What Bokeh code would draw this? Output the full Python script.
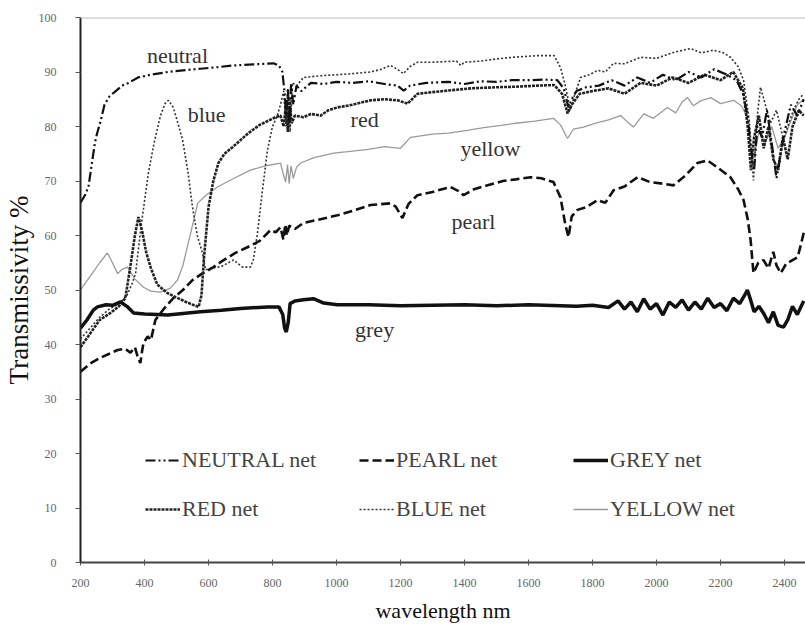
from bokeh.plotting import figure
from bokeh.models import Range1d, Span, Legend, LegendItem, FixedTicker, ColumnDataSource
from bokeh.core.properties import value
from bokeh.embed import file_html
from bokeh.resources import INLINE

# ---------------- data ----------------
neutral_x = [200, 215, 225, 235, 245, 253, 263, 275, 290, 310, 330, 350, 380, 420, 472, 520, 575, 630, 678, 740, 803, 820, 831, 838, 843, 848, 853, 858, 865, 875, 890, 920, 960, 1000, 1050, 1100, 1150, 1190, 1210, 1230, 1280, 1350, 1400, 1450, 1500, 1550, 1600, 1650, 1690, 1710, 1725, 1735, 1750, 1780, 1820, 1860, 1900, 1940, 1980, 2020, 2060, 2100, 2140, 2180, 2220, 2250, 2270, 2285, 2295, 2305, 2315, 2330, 2345, 2360, 2375, 2385, 2400, 2420, 2440, 2460]
neutral_y = [66, 67.5, 69, 73, 77, 79, 81, 84, 85.5, 86.5, 87.5, 88, 89, 89.5, 90, 90.3, 90.6, 90.9, 91.2, 91.4, 91.6, 91.2, 90, 86, 82, 87, 80, 88, 84, 87.5, 86.5, 88, 87.8, 88.2, 88, 88.3, 87.8, 87.5, 86.6, 87.5, 88, 88.2, 87.8, 88.3, 88.2, 88.5, 88.5, 88.6, 88.5, 87, 83.5, 85, 86.5, 87.2, 87.5, 88.5, 87.5, 89, 88, 89.5, 88.5, 90, 89, 90.5, 89.5, 88.5, 86, 82, 76, 72, 80, 78, 83, 77, 70.5, 74, 79, 84, 82, 85]

red_x = [200, 230, 260, 294, 320, 340, 355, 370, 381, 392, 405, 420, 440, 470, 497, 530, 555, 569, 578, 586, 600, 615, 631, 650, 675, 700, 725, 760, 809, 825, 835, 842, 848, 853, 860, 870, 897, 920, 950, 975, 1003, 1050, 1106, 1150, 1191, 1222, 1253, 1300, 1350, 1419, 1500, 1560, 1628, 1680, 1705, 1722, 1735, 1760, 1800, 1850, 1900, 1950, 2000, 2050, 2100, 2150, 2200, 2240, 2270, 2285, 2295, 2305, 2320, 2335, 2350, 2365, 2380, 2395, 2410, 2425, 2445, 2460]
red_y = [39.5, 42, 44.5, 45.8, 47, 48.5, 54, 60, 63.4, 61, 57, 54, 51, 49.5, 48.7, 47.8, 47.2, 46.9, 49, 56, 65.2, 70, 73.3, 75, 76.2, 77.5, 78.8, 80.3, 81.7, 82, 80, 84, 79, 85, 80.6, 82, 81.7, 82.3, 82, 83, 83.5, 84, 84.8, 85, 84.8, 84.2, 86, 86.3, 86.6, 87, 87.2, 87.3, 87.5, 87.6, 86, 82.4, 84, 86, 86.5, 87, 86, 88, 87.5, 89, 88, 89.5, 88.5, 90, 87, 80, 72, 78, 82, 76, 80, 74, 72, 78, 74, 80, 83, 82]

blue_x = [200, 230, 260, 290, 320, 345, 360, 372, 390, 412, 430, 450, 465, 475, 490, 505, 519, 535, 550, 565, 581, 591, 610, 640, 678, 706, 731, 740, 753, 768, 784, 800, 815, 825, 835, 842, 848, 855, 862, 875, 897, 950, 1000, 1050, 1106, 1140, 1169, 1190, 1209, 1230, 1253, 1300, 1375, 1388, 1400, 1450, 1500, 1550, 1628, 1680, 1700, 1715, 1731, 1745, 1763, 1790, 1816, 1840, 1866, 1900, 1950, 2000, 2053, 2106, 2140, 2178, 2210, 2231, 2255, 2272, 2290, 2303, 2315, 2325, 2340, 2356, 2375, 2397, 2410, 2428, 2445, 2460]
blue_y = [41, 43, 45, 46.5, 47.5, 49, 51, 53, 62, 71.4, 77, 82, 84.3, 84.8, 83.5, 80.5, 77.5, 72, 65.2, 60, 56.8, 53.7, 54, 54.3, 55.5, 54.2, 54.2, 55.5, 60.4, 68, 75.6, 80, 82, 84, 86.5, 80, 87, 79, 88, 87.5, 89, 89.3, 89.5, 89.7, 90, 90.5, 91.2, 90.5, 89.7, 91, 91.8, 91.8, 92, 91.2, 91.8, 92, 92.4, 92.7, 93, 93, 90.8, 87.5, 83, 86, 89, 89.5, 90.3, 90, 91.6, 91.5, 92.7, 92.5, 93.6, 94.3, 93.5, 94, 93.5, 92.7, 91, 88.5, 81, 70.1, 82, 87.2, 84, 80.6, 83, 77.5, 80, 83, 85, 86]

pearl_x = [200, 230, 260, 290, 316, 340, 356, 370, 380, 387, 393, 397, 410, 420, 434, 460, 490, 520, 550, 580, 610, 640, 684, 720, 760, 794, 810, 825, 834, 840, 845, 852, 870, 897, 950, 1003, 1050, 1106, 1169, 1185, 1206, 1225, 1253, 1300, 1356, 1380, 1397, 1430, 1472, 1520, 1560, 1606, 1640, 1678, 1700, 1715, 1725, 1735, 1753, 1780, 1816, 1840, 1866, 1900, 1941, 1980, 2020, 2053, 2090, 2128, 2159, 2190, 2231, 2255, 2272, 2285, 2294, 2303, 2318, 2334, 2350, 2365, 2375, 2388, 2405, 2425, 2441, 2452, 2462]
pearl_y = [35, 36.5, 37.5, 38.3, 39, 39.2, 38.5, 39.5, 37.5, 36.6, 39, 40.3, 41.5, 40.8, 44.5, 46.5, 48.5, 50, 51.8, 53, 54, 55.2, 56.8, 57.8, 59, 61, 60.6, 61.5, 59.2, 62, 60, 61.8, 61.2, 62.3, 63, 63.7, 64.5, 65.6, 65.9, 65.3, 63.2, 65.8, 67.4, 68, 68.9, 68.2, 67.4, 68.5, 69.2, 70, 70.3, 70.7, 70.5, 69.8, 67, 62, 59.7, 63.5, 64.7, 65.2, 66.5, 66, 68.3, 69, 70.7, 69.8, 69.5, 69.2, 71, 73.3, 73.8, 72.5, 70.7, 68.5, 66.5, 63, 59.2, 53.1, 55, 55.5, 54, 57, 54.5, 53.1, 54.8, 55.5, 56, 58.5, 61]

grey_x = [200, 220, 240, 253, 280, 300, 325, 345, 366, 400, 440, 472, 520, 575, 640, 700, 784, 820, 832, 838, 843, 849, 855, 870, 897, 928, 960, 1003, 1100, 1200, 1300, 1400, 1500, 1600, 1700, 1750, 1800, 1850, 1880, 1900, 1920, 1940, 1960, 1980, 2000, 2020, 2040, 2060, 2080, 2100, 2120, 2140, 2160, 2180, 2200, 2220, 2240, 2260, 2275, 2284, 2295, 2305, 2320, 2334, 2350, 2365, 2380, 2397, 2410, 2425, 2440, 2460]
grey_y = [43, 44.5, 46.3, 46.9, 47.3, 47.2, 47.8, 47, 45.8, 45.6, 45.5, 45.4, 45.7, 46, 46.3, 46.6, 46.9, 46.9, 45.5, 43, 42.3, 44, 47.5, 48, 48.2, 48.4, 47.6, 47.3, 47.3, 47.1, 47.2, 47.3, 47.1, 47.3, 47.1, 47, 47.2, 46.8, 48, 46.5, 47.8, 46, 48.4, 46.5, 47.5, 45.4, 47.8, 46.8, 48.2, 46.3, 47.8, 46.5, 48.5, 46.8, 47.5, 46.2, 48.5, 47.5, 49, 50, 48, 46, 47, 45.8, 44, 46, 43.5, 43.2, 44.5, 47, 45.5, 48]

yellow_x = [200, 230, 260, 284, 300, 316, 330, 347, 370, 397, 420, 450, 480, 503, 520, 544, 566, 590, 628, 680, 731, 780, 825, 835, 841, 847, 852, 858, 865, 875, 888, 930, 991, 1050, 1100, 1150, 1200, 1231, 1300, 1350, 1409, 1460, 1513, 1560, 1620, 1678, 1700, 1722, 1740, 1772, 1810, 1850, 1888, 1910, 1928, 1960, 1990, 2034, 2060, 2080, 2097, 2115, 2138, 2170, 2200, 2241, 2265, 2284, 2295, 2305, 2320, 2340, 2360, 2380, 2400, 2420, 2440, 2460]
yellow_y = [50, 52.5, 55, 56.8, 55, 53, 53.8, 54.2, 52, 50.5, 49.8, 49.6, 50.3, 51.8, 54.5, 60.4, 65.9, 67.3, 68.9, 70.5, 72, 72.8, 73.3, 71, 69.8, 73, 69.5, 72.8, 70.5, 72.5, 73.3, 74.3, 75.1, 75.5, 75.8, 76.3, 76, 78, 78.6, 78.8, 79.3, 79.8, 80.2, 80.6, 81, 81.5, 80.3, 77.8, 79.5, 79.9, 80.6, 81.2, 82, 80.8, 79.9, 82.3, 81.5, 83.5, 82.5, 84.5, 85.3, 83.8, 84.7, 85.3, 84.2, 84.8, 83.8, 81.7, 76, 74.5, 79, 77, 80, 76, 78, 81, 84, 85]

series_names = ["NEUTRAL net", "PEARL net", "GREY net", "RED net", "BLUE net", "YELLOW net"]
curve_labels = ["neutral", "blue", "red", "yellow", "pearl", "grey"]
label_x = [503, 594, 1088, 1481, 1428, 1119]
label_y = [93.0, 82.2, 81.3, 76.0, 62.5, 42.7]

x_ticks = [200, 400, 600, 800, 1000, 1200, 1400, 1600, 1800, 2000, 2200, 2400]
y_ticks = [0, 10, 20, 30, 40, 50, 60, 70, 80, 90, 100]

SERIF = "Liberation Serif"

p = figure(width=805, height=625, output_backend="svg", toolbar_location=None,
           x_range=Range1d(200, 2465.6), y_range=Range1d(0, 100),
           min_border_left=80, min_border_right=0, min_border_top=17, min_border_bottom=62,
           background_fill_color="white", border_fill_color="white")
p.outline_line_color = None
p.xgrid.visible = False
p.ygrid.visible = False

styles = {
    "NEUTRAL net": dict(x=neutral_x, y=neutral_y, line_color="#111111", line_width=2.2, line_dash="10 3 2 3 2 3"),
    "PEARL net": dict(x=pearl_x, y=pearl_y, line_color="#111111", line_width=2.6, line_dash="9 4"),
    "GREY net": dict(x=grey_x, y=grey_y, line_color="#111111", line_width=3.5, line_dash="solid"),
    "RED net": dict(x=red_x, y=red_y, line_color="#222222", line_width=2.6, line_dash="3 1"),
    "BLUE net": dict(x=blue_x, y=blue_y, line_color="#333333", line_width=1.6, line_dash="2 2"),
    "YELLOW net": dict(x=yellow_x, y=yellow_y, line_color="#9a9a9a", line_width=1.3, line_dash="solid"),
}

renderers = {}
for name in ["YELLOW net", "BLUE net", "PEARL net", "RED net", "NEUTRAL net", "GREY net"]:
    s = styles[name]
    renderers[name] = p.line(s["x"], s["y"], line_color=s["line_color"], line_width=s["line_width"],
                             line_dash=s["line_dash"])

# top border
p.add_layout(Span(location=100, dimension="width", line_color="#bbbbbb", line_width=2))

# curve labels
src = ColumnDataSource(dict(x=label_x, y=label_y, t=curve_labels))
p.text(x="x", y="y", text="t", source=src, text_font=value(SERIF), text_font_size="22px",
       text_color="#333333", text_align="center", text_baseline="middle")

# legend
items = [LegendItem(label=n, renderers=[renderers[n]]) for n in series_names]
legend = Legend(items=items, location=(65, 40), orientation="horizontal", ncols=3,
                glyph_width=35, glyph_height=20, label_height=20, label_width=154,
                label_standoff=2, spacing=23, padding=0, margin=0,
                border_line_color=None, background_fill_alpha=0,
                label_text_font=SERIF, label_text_font_size="22px", label_text_color="#444444")
p.add_layout(legend, "center")

# axes
for ax in p.xaxis:
    ax.ticker = FixedTicker(ticks=x_ticks)
    ax.axis_label = "wavelength nm"
    ax.axis_label_text_font = SERIF
    ax.axis_label_text_font_style = "normal"
    ax.axis_label_text_font_size = "22px"
    ax.axis_label_text_color = "#111111"
    ax.axis_label_standoff = 8
    ax.major_label_text_font = SERIF
    ax.major_label_text_font_size = "12px"
    ax.major_label_text_color = "#666666"
    ax.major_label_standoff = 13
    ax.axis_line_color = "#444444"
    ax.axis_line_width = 2
    ax.major_tick_in = 3
    ax.major_tick_out = 3
    ax.major_tick_line_color = "#555555"
    ax.minor_tick_line_color = None

for ax in p.yaxis:
    ax.ticker = FixedTicker(ticks=y_ticks)
    ax.axis_label = "Transmissivity %"
    ax.axis_label_text_font = SERIF
    ax.axis_label_text_font_style = "normal"
    ax.axis_label_text_font_size = "27px"
    ax.axis_label_text_color = "#111111"
    ax.axis_label_standoff = 2
    ax.major_label_text_font = SERIF
    ax.major_label_text_font_size = "12px"
    ax.major_label_text_color = "#666666"
    ax.major_label_standoff = 19
    ax.axis_line_color = "#222222"
    ax.axis_line_width = 2
    ax.major_tick_in = 0
    ax.major_tick_out = 5
    ax.major_tick_line_color = "#555555"
    ax.minor_tick_line_color = None

open("out.html", "w").write(file_html(p, INLINE))
